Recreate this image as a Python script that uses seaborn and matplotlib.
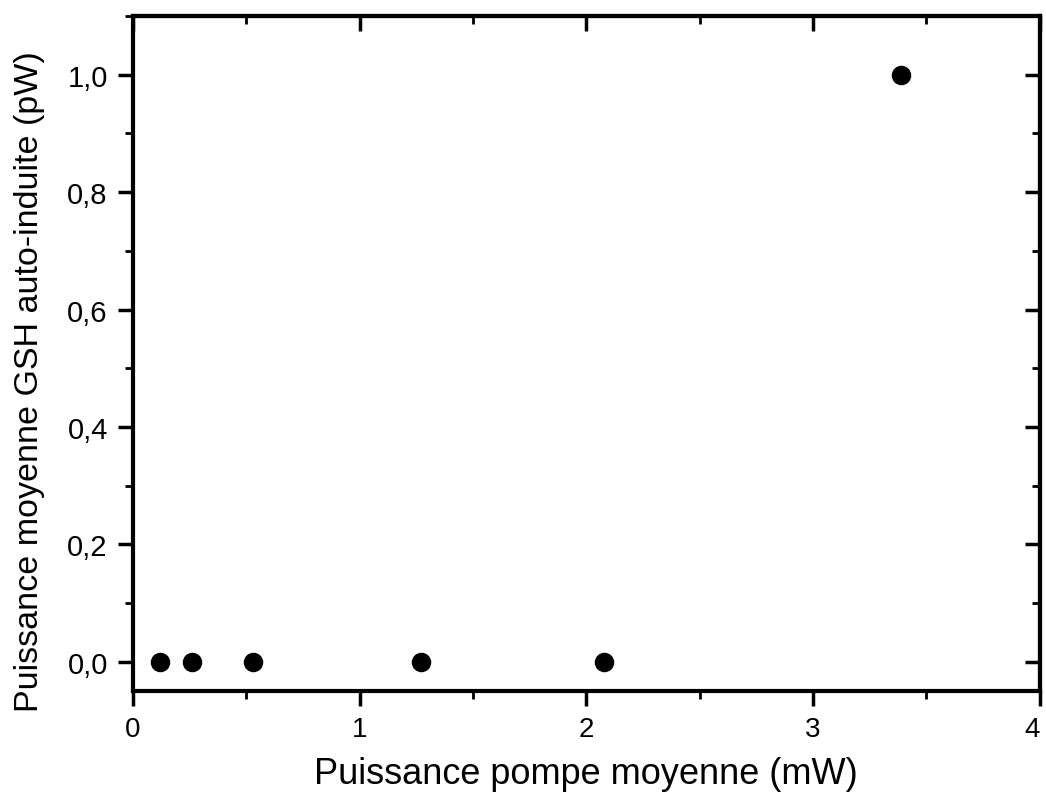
import matplotlib
matplotlib.use("Agg")
import matplotlib.pyplot as plt
import seaborn as sns
import pandas as pd
from matplotlib.ticker import MultipleLocator, FuncFormatter

pump_mW = [0.12, 0.26, 0.53, 1.27, 2.08, 3.39]
shg_pW = [0.0, 0.0, 0.0, 0.0, 0.0, 1.0]

sns.set_theme(style="ticks")
plt.rcParams['font.family'] = ['Liberation Sans', 'DejaVu Sans']
plt.rcParams['text.color'] = 'black'
plt.rcParams['axes.labelcolor'] = 'black'

df = pd.DataFrame({"x": pump_mW, "y": shg_pW})
fig = plt.figure(figsize=(10.46, 8.04), dpi=100)
ax = fig.add_axes([0.127, 0.139, 0.867, 0.840])
sns.scatterplot(data=df, x="x", y="y", ax=ax, color="black", marker="o", s=170,
                edgecolor="black", linewidth=1.0, zorder=3)

ax.set_xlim(0, 4)
ax.set_ylim(-0.05, 1.1)
ax.xaxis.set_major_locator(MultipleLocator(1))
ax.xaxis.set_minor_locator(MultipleLocator(0.5))
ax.yaxis.set_major_locator(MultipleLocator(0.2))
ax.yaxis.set_minor_locator(MultipleLocator(0.1))
ax.yaxis.set_major_formatter(FuncFormatter(lambda v, p: f"{v:.1f}".replace(".", ",")))
ax.tick_params(which="major", direction="out", length=11, width=2.5, labelsize=21,
               colors="black", labelcolor="black", pad=7)
ax.tick_params(axis="x", which="major", labelsize=20)
ax.tick_params(which="minor", direction="out", length=6, width=2, colors="black")
for s in ax.spines.values():
    s.set_linewidth(3)
    s.set_color("black")
for lbl in ax.get_xticklabels():
    if lbl.get_text() == "4":
        lbl.set_horizontalalignment("right")

# inward ticks on top and right
sec = ax.secondary_xaxis("top")
sec.xaxis.set_major_locator(MultipleLocator(1))
sec.xaxis.set_minor_locator(MultipleLocator(0.5))
sec.tick_params(which="major", direction="in", length=11, width=2.5, labeltop=False, colors="black")
sec.tick_params(which="minor", direction="in", length=6, width=2, colors="black")
sec.spines["top"].set_linewidth(3)

sec2 = ax.secondary_yaxis("right")
sec2.yaxis.set_major_locator(MultipleLocator(0.2))
sec2.yaxis.set_minor_locator(MultipleLocator(0.1))
sec2.tick_params(which="major", direction="in", length=11, width=2.5, labelright=False, colors="black")
sec2.tick_params(which="minor", direction="in", length=6, width=2, colors="black")
sec2.spines["right"].set_linewidth(3)

ax.set_xlabel("Puissance pompe moyenne (mW)", fontsize=26, labelpad=10)
ax.set_ylabel("Puissance moyenne GSH auto-induite (pW)", fontsize=24.5)
ax.yaxis.set_label_coords(-0.097, 0.46)

fig.canvas.draw()
for lbl in ax.get_xticklabels():
    if lbl.get_text() == "4":
        lbl.set_horizontalalignment("right")
fig.savefig("out.png", dpi=100)
